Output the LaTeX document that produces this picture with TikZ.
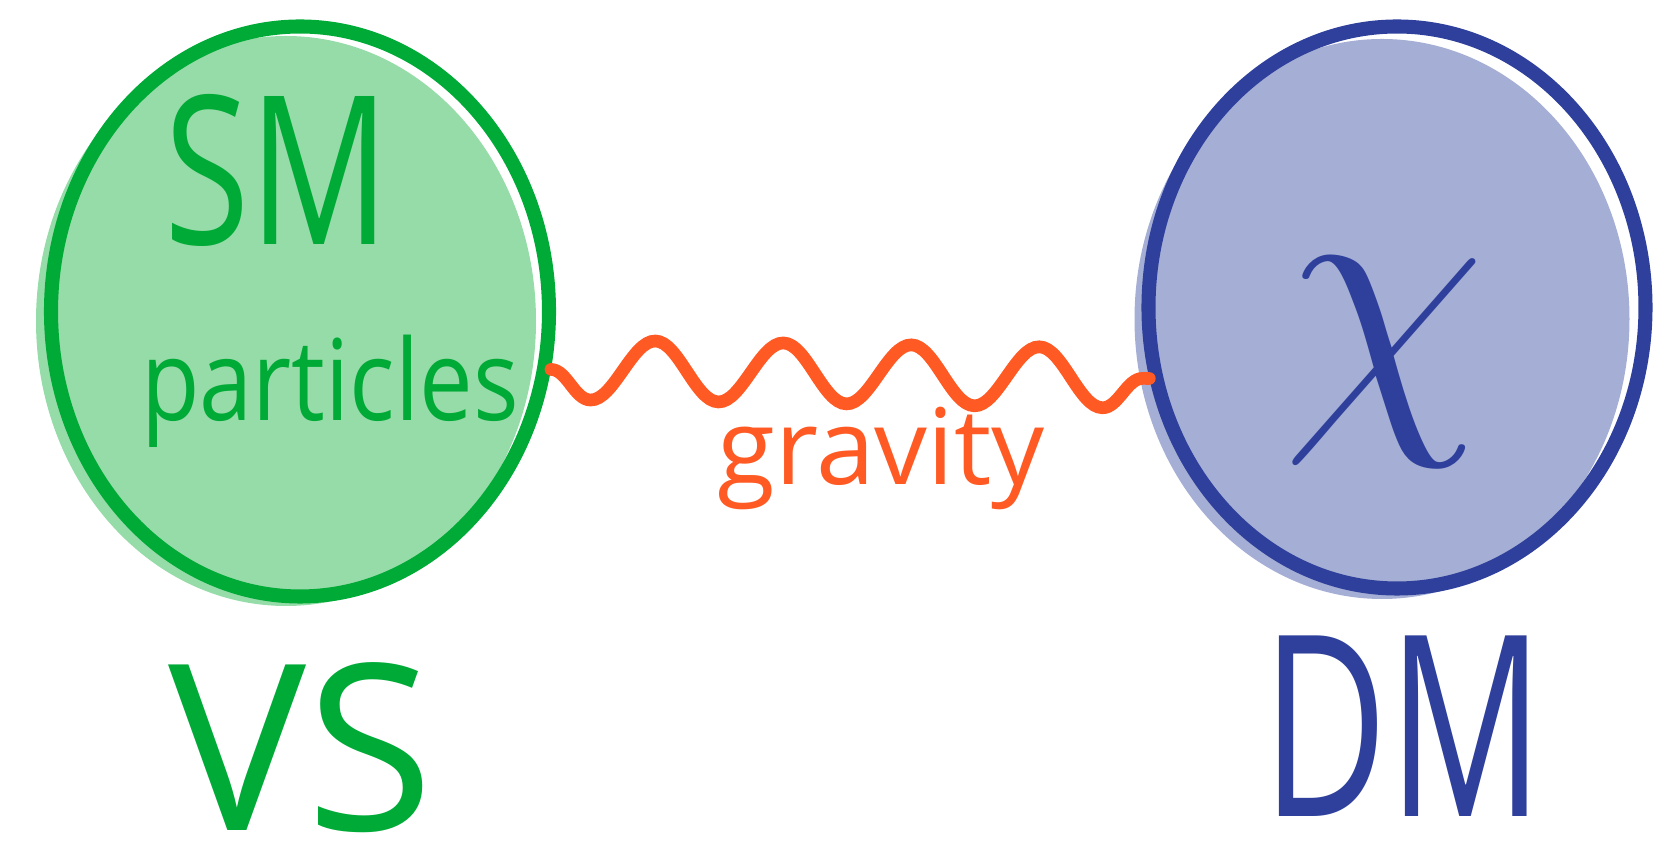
\documentclass[tikz,border=0pt]{standalone}
\usepackage{graphicx}
\usepackage{fontspec}
\setmainfont{Open Sans}
\usepackage{tikz}
\usetikzlibrary{shapes.geometric,decorations.pathmorphing}
\definecolor{vsGreen}{RGB}{0,170,55}
\definecolor{vsFill}{RGB}{150,220,168}
\definecolor{dmBlue}{RGB}{46,64,155}
\definecolor{dmFill}{RGB}{165,174,212}
\definecolor{gravOrange}{RGB}{255,90,35}
\newcommand{\squeezed}[2]{\scalebox{#1}[1]{#2}}

\begin{document}
\begin{tikzpicture}[
  blob/.style={ellipse, draw, line width=4pt, inner sep=0pt},
  blobshade/.style={ellipse, draw=none, inner sep=0pt},
  handtext/.style={inner sep=0pt, anchor=base, text depth=0pt},
  graviton/.style={gravOrange, line width=3.6pt, line cap=round, decorate,
    decoration={snake, segment length=1.28cm, amplitude=0.3cm, mirror}}
]
  \useasboundingbox (0,0) rectangle (16.7,8.43);

  % soft fills, a bit off the outlines
  \node[blobshade, fill=vsFill, minimum width=5.0cm, minimum height=5.7cm] (vsshade) at (2.86,5.22) {};
  \node[blobshade, fill=dmFill, minimum width=4.95cm, minimum height=5.6cm] (dmshade) at (13.82,5.24) {};

  % the two sectors
  \node[blob, draw=vsGreen, minimum width=4.98cm, minimum height=5.7cm] (vs) at (3.00,5.315) {};
  \node[blob, draw=dmBlue, minimum width=4.97cm, minimum height=5.62cm] (dm) at (13.97,5.355) {};

  % texts
  \node[handtext, vsGreen, font=\fontsize{59}{59}\selectfont] (sm) at (2.77,5.98) {\squeezed{0.75}{SM}};
  \node[handtext, vsGreen, font=\fontsize{32}{32}\selectfont] (particles) at (3.30,4.22) {\squeezed{0.85}{particles}};
  \node[inner sep=0pt, dmBlue] (chi) at (13.84,4.81) {\scalebox{3.8}{\Huge$\chi$}};
  \node[handtext, vsGreen, font=\fontsize{66}{66}\selectfont] (vslabel) at (3.01,0.12) {VS};
  \node[handtext, dmBlue, font=\fontsize{72}{72}\selectfont] (dmlabel) at (14.03,0.26) {\squeezed{0.68}{DM}};

  % graviton line
  \draw[graviton] (vs.-13) -- (dm.196);
  \node[handtext, gravOrange, font=\fontsize{30}{30}\selectfont] (gravity) at (8.81,3.58) {gravity};
\end{tikzpicture}
\end{document}
